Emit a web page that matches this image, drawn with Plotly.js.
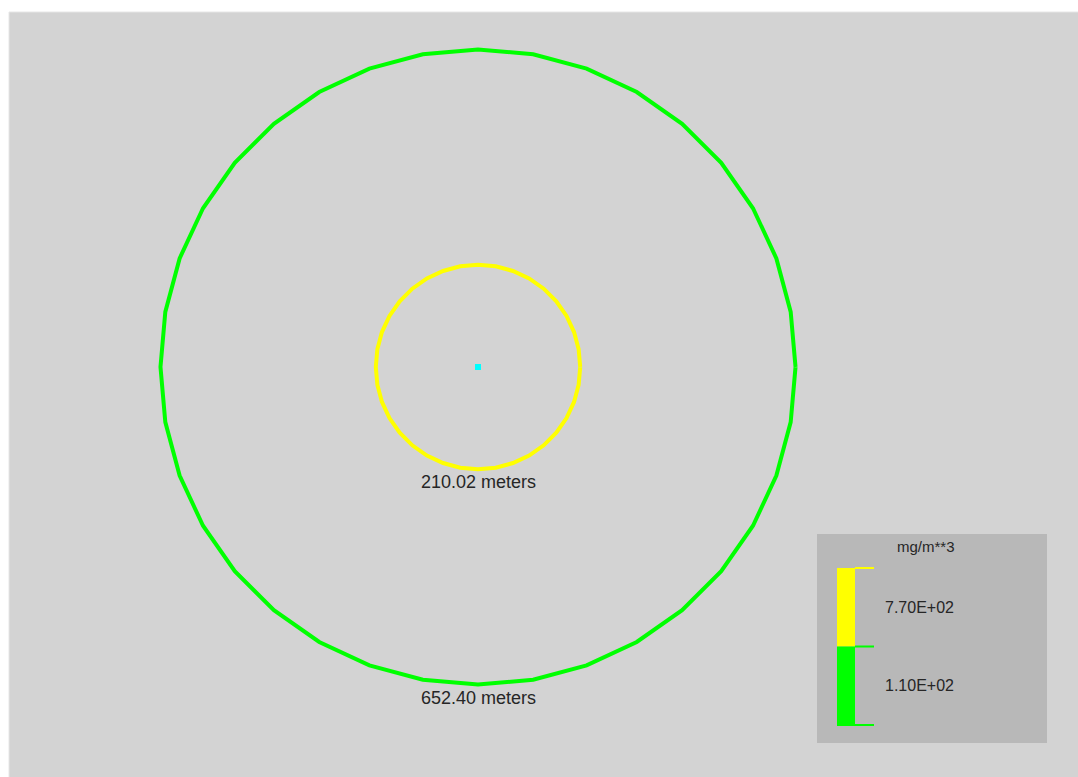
<!DOCTYPE html>
<html>
<head>
<meta charset="utf-8">
<script src="https://cdn.plot.ly/plotly-3.0.1.min.js"></script>
<style>html,body{margin:0;padding:0;background:#fff;}#chart{width:1078px;height:777px;}</style>
</head>
<body>
<div id="chart"></div>
<script>
// Data
var contourRadii = [210.02, 652.40];          // meters
var contourColors = ['#ffff00', '#00ff00'];
var contourLabels = ['210.02 meters', '652.40 meters'];
var legendTitle = 'mg/m**3';
var legendValues = ['7.70E+02', '1.10E+02'];
var legendColors = ['#ffff00', '#00ff00'];
var sourcePoint = {x: [0], y: [0]};
var polygonSides = 36;

// Build polygon circles from radii
var traces = [];
contourRadii.forEach(function (r, i) {
  var xs = [], ys = [];
  for (var k = 0; k <= polygonSides; k++) {
    var a = 2 * Math.PI * k / polygonSides;
    xs.push(r * Math.cos(a));
    ys.push(r * Math.sin(a));
  }
  traces.push({x: xs, y: ys, mode: 'lines', type: 'scatter',
    line: {color: contourColors[i], width: 4}, hoverinfo: 'skip', showlegend: false});
});
traces.push({x: sourcePoint.x, y: sourcePoint.y, mode: 'markers', type: 'scatter',
  marker: {symbol: 'square', size: 6, color: '#00ffff'}, showlegend: false});

// Layout geometry
var W = 1078, H = 777, ML = 9, MT = 12;
var PW = W - ML, PH = H - MT;
var mPerPx = 2.0547;
var cx = 478, cy = 367;
var xr = [-(cx - ML) * mPerPx, (W - cx) * mPerPx];
var yr = [-(H - cy) * mPerPx, (cy - MT) * mPerPx];
function px(x) { return (x - ML) / PW; }
function py(y) { return 1 - (y - MT) / PH; }
var FONT = 'Liberation Sans, Arial, sans-serif';

var annotations = contourLabels.map(function (t, i) {
  return {x: 0, y: -contourRadii[i], xref: 'x', yref: 'y', text: t, showarrow: false,
    yanchor: 'top', yshift: -1, font: {family: FONT, size: 18, color: '#262626'}};
});

var shapes = [];
// legend box
shapes.push({type: 'rect', xref: 'paper', yref: 'paper', x0: px(817), x1: px(1047), y0: py(743), y1: py(534),
  fillcolor: '#b8b8b8', line: {width: 0}, layer: 'above'});
annotations.push({xref: 'paper', yref: 'paper', x: px(926), y: py(546), text: legendTitle, showarrow: false,
  xanchor: 'center', yanchor: 'middle', font: {family: FONT, size: 15, color: '#262626'}});
var segTop = 568, segH = 78.5;
legendValues.forEach(function (v, i) {
  var y0 = segTop + i * segH, y1 = y0 + segH;
  shapes.push({type: 'rect', xref: 'paper', yref: 'paper', x0: px(837), x1: px(855), y0: py(y1), y1: py(y0),
    fillcolor: legendColors[i], line: {width: 0}, layer: 'above'});
  shapes.push({type: 'line', xref: 'paper', yref: 'paper', x0: px(855), x1: px(874), y0: py(y0), y1: py(y0),
    line: {color: legendColors[i], width: 2}, layer: 'above'});
  if (i === legendValues.length - 1) {
    shapes.push({type: 'line', xref: 'paper', yref: 'paper', x0: px(837), x1: px(874), y0: py(y1), y1: py(y1),
      line: {color: legendColors[i], width: 2}, layer: 'above'});
  }
  annotations.push({xref: 'paper', yref: 'paper', x: px(883), y: py((y0 + y1) / 2), text: v, showarrow: false,
    xanchor: 'left', yanchor: 'middle', font: {family: FONT, size: 16, color: '#262626'}});
});
// faint frame edge
shapes.push({type: 'line', xref: 'paper', yref: 'paper', x0: 0, x1: 1, y0: 1, y1: 1, line: {color: '#e6e6e6', width: 1}});
shapes.push({type: 'line', xref: 'paper', yref: 'paper', x0: 0, x1: 0, y0: 0, y1: 1, line: {color: '#e6e6e6', width: 1}});

var layout = {
  width: W, height: H,
  margin: {l: ML, r: 0, t: MT, b: 0, pad: 0},
  paper_bgcolor: '#ffffff', plot_bgcolor: '#d3d3d3',
  xaxis: {range: xr, visible: false, showgrid: false, zeroline: false, fixedrange: true},
  yaxis: {range: yr, visible: false, showgrid: false, zeroline: false, fixedrange: true},
  showlegend: false,
  shapes: shapes,
  annotations: annotations
};
Plotly.newPlot('chart', traces, layout, {displayModeBar: false, staticPlot: true});
</script>
</body>
</html>
